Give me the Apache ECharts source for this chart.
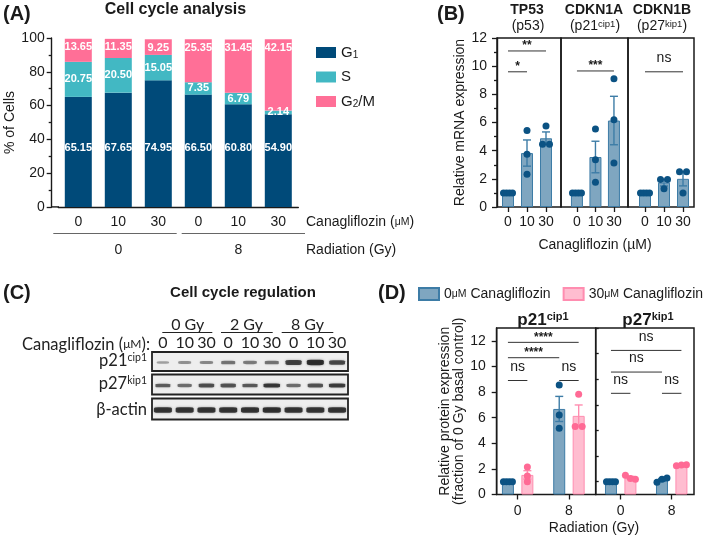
<!DOCTYPE html>
<html><head><meta charset="utf-8">
<script src="https://cdn.jsdelivr.net/npm/echarts@6/dist/echarts.min.js"></script>
<style>html,body{margin:0;padding:0;background:#fff}#c{width:709px;height:539px}</style>
</head><body><div id="c"></div>
<script>
// ================= DATA =================
// (A) cell cycle distribution (%)
const cycleDoses = ['0','10','30','0','10','30'];
const cycleG1  = [65.15, 67.65, 74.95, 66.50, 60.80, 54.90];
const cycleS   = [20.75, 20.50, 15.05, 7.35, 6.79, 2.14];
const cycleG2M = [13.65, 11.35, 9.25, 25.35, 31.45, 42.15];
const cycleRadiation = ['0', '8'];
const cycleTicks = [0, 100, 20];

// (B) relative mRNA expression
const mrnaDoses = ['0','10','30'];
const tp53Mean = [1.0, 3.83, 4.88];
const tp53Sem  = [0, 0.93, 0.45];
const tp53Pts  = [[1,1,1,1],[5.44,3.75,2.32],[5.75,4.45,4.45]];
const tp53Sig  = [['0','10',9.6,'*'],['0','30',11.08,'**']];
const cdkn1aMean = [1.0, 3.55, 6.14];
const cdkn1aSem  = [0, 1.12, 1.72];
const cdkn1aPts  = [[1,1,1,1],[5.54,3.36,1.75],[9.11,6.2,3.12]];
const cdkn1aSig  = [['0','30',9.66,'***']];
const cdkn1bMean = [1.0, 1.73, 2.0];
const cdkn1bSem  = [0, 0.24, 0.5];
const cdkn1bPts  = [[1,1,1,1],[1.95,1.95,1.3],[2.5,2.5,1.0]];
const cdkn1bSig  = [['0','30',9.6,'ns']];
const mrnaTicks = [0, 12, 2];

// (C) western blot band intensities (0-1)
const blotLanes = ['0','10','30','0','10','30','0','10','30'];
const blotGroups = ['0 Gy','2 Gy','8 Gy'];
const p21Band   = [0.22, 0.32, 0.38, 0.5, 0.45, 0.5, 0.85, 1.0, 0.8];
const p27Band   = [0.65, 0.55, 0.75, 0.72, 0.68, 0.92, 0.55, 0.72, 0.88];
const actinBand = [0.95, 0.95, 0.95, 0.95, 0.95, 0.97, 0.95, 0.93, 0.95];

// (D) relative protein expression
const radDoses = ['0','8'];
const p21CtrlMean = [1.0, 6.68];
const p21CtrlSem  = [0, 0.98];
const p21CtrlPts  = [[1,1,1,1],[8.54,6.21,5.17]];
const p21CanaMean = [1.53, 6.14];
const p21CanaSem  = [0.33, 0.85];
const p21CanaPts  = [[2.15,1.45,1.0],[7.83,5.3,5.3]];
const p21Sig = [['0','c','8','t',11.88,'****'],['0','c','8','c',10.68,'****'],['0','c','0','t',8.9,'ns'],['8','c','8','t',8.9,'ns']];
const p27CtrlMean = [1.0, 1.14];
const p27CtrlSem  = [0, 0.1];
const p27CtrlPts  = [[1,1,1,1],[0.95,1.2,1.28]];
const p27CanaMean = [1.32, 2.29];
const p27CanaSem  = [0.1, 0.03];
const p27CanaPts  = [[1.5,1.25,1.2],[2.25,2.3,2.32]];
const p27Sig = [['0','c','8','t',11.25,'ns'],['0','c','8','c',9.56,'ns'],['0','c','0','t',7.9,'ns'],['8','c','8','t',7.9,'ns']];
const protMajor = [0,2,4,6,8,10,12];
const protMinor = [1,3,5,7,9,11,13];
const protMax = 13;

// ================= STYLE =================
const FONT = '"Liberation Sans", Arial, Helvetica, sans-serif';
const CAL = 'Lato, "Open Sans", sans-serif';
const INK = '#1a1a1a';
const cNavy = '#004a79', cTeal = '#42b8c3', cPink = '#ff6f97';
const blueFill = '#7fa6c0', blueEdge = '#3d7ca6', blueDot = '#0b5283';
const pinkFill = '#ffbdd0', pinkEdge = '#ff8db0', pinkDot = '#ff6a95';
const CTRL = '0μM Canagliflozin', CANA = '30μM Canagliflozin';
const barW = 12, barGapRatio = 0.62;
const dOff = barW * (1 + barGapRatio) / 2;

function jitter(vals, thr) {
  const n = vals.length, off = new Array(n).fill(0);
  const idx = vals.map((v, i) => i).sort((a, b) => vals[a] - vals[b]);
  const clusters = []; let cur = [idx[0]];
  for (let k = 1; k < n; k++) {
    if (vals[idx[k]] - vals[idx[k - 1]] < thr) cur.push(idx[k]);
    else { clusters.push(cur); cur = [idx[k]]; }
  }
  clusters.push(cur);
  clusters.forEach(c => {
    c.sort((a, b) => a - b);
    const s = c.length >= 4 ? 3 : (c.length === 3 ? 5 : 7);
    c.forEach((i, j) => { off[i] = (j - (c.length - 1) / 2) * s; });
  });
  return off;
}

function dotSeries(ai, pts, dx, color) {
  const data = [];
  pts.forEach((arr, i) => {
    const off = jitter(arr, 0.42);
    arr.forEach((v, j) => data.push({ value: [i, v], symbolOffset: [dx + off[j], 0] }));
  });
  return { type: 'scatter', xAxisIndex: ai, yAxisIndex: ai, data, symbolSize: 7, z: 5, silent: true,
    itemStyle: { color, opacity: 1 } };
}

function errSeries(ai, mean, sem, dx, color) {
  return { type: 'custom', xAxisIndex: ai, yAxisIndex: ai, z: 4, silent: true, clip: false,
    data: mean.map((m, i) => [i, m]),
    renderItem: (p, api) => {
      const i = p.dataIndex, m = mean[i], s = sem[i];
      if (!s) return null;
      const t = api.coord([i, m + s]), b = api.coord([i, m - s]);
      const x = t[0] + dx, cap = 4, st = { stroke: color, lineWidth: 1.4 };
      return { type: 'group', children: [
        { type: 'line', shape: { x1: x, y1: t[1], x2: x, y2: b[1] }, style: st },
        { type: 'line', shape: { x1: x - cap, y1: t[1], x2: x + cap, y2: t[1] }, style: st },
        { type: 'line', shape: { x1: x - cap, y1: b[1], x2: x + cap, y2: b[1] }, style: st }
      ]};
    } };
}

// list items: [fromIdx, fromDx, toIdx, toDx, y, text]
function sigSeries(ai, list) {
  return { type: 'custom', xAxisIndex: ai, yAxisIndex: ai, z: 6, silent: true, clip: false,
    data: list.map(s => [s[0], s[4]]),
    renderItem: (p, api) => {
      const s = list[p.dataIndex];
      const a = api.coord([s[0], s[4]]), b = api.coord([s[2], s[4]]);
      const x1 = a[0] + s[1], x2 = b[0] + s[3], y = a[1];
      const star = s[5] !== 'ns';
      return { type: 'group', children: [
        { type: 'line', shape: { x1, y1: y, x2, y2: y }, style: { stroke: '#333', lineWidth: 1 } },
        { type: 'text', style: { text: s[5], x: (x1 + x2) / 2, y: star ? y - 5 : y - 13.5,
          align: 'center', verticalAlign: 'middle', textAlign: 'center', textVerticalAlign: 'middle',
          fontSize: star ? 12 : 14, fontWeight: star ? 'bold' : 'normal', fontFamily: FONT, fill: INK } }
      ]};
    } };
}

function blotSeries(ai, vals, kind) {
  return { type: 'scatter', xAxisIndex: ai, yAxisIndex: ai, z: 3, silent: true,
    data: vals.map((v, i) => {
      const w = kind === 'actin' ? 18 : 11 + 6 * v;
      const h = kind === 'actin' ? 5.5 : (kind === 'p21' ? 1.6 + 3.8 * v : 2.2 + 2.2 * v);
      return { value: [i, 0.5], symbol: 'roundRect', symbolSize: [w, h], symbolOffset: [0, 1],
        itemStyle: { color: 'rgba(15,15,15,' + (0.25 + 0.75 * v).toFixed(2) + ')',
          shadowBlur: 2.5, shadowColor: 'rgba(0,0,0,' + (0.5 * v).toFixed(2) + ')' } };
    }) };
}

// ================= LAYOUT =================
const frame = { show: true, borderColor: INK, borderWidth: 1.5, backgroundColor: 'transparent' };
const blotBox = { show: true, backgroundColor: '#eeeeee', borderColor: '#222', borderWidth: 1.8 };
const grids = [
  { left: 58.3, top: 38, width: 240, height: 169 },                         // 0 A
  Object.assign({ left: 497, top: 38, width: 64, height: 169 }, frame),     // 1 B frame
  Object.assign({ left: 561, top: 38, width: 67, height: 169 }, frame),     // 2
  Object.assign({ left: 628, top: 38, width: 66, height: 169 }, frame),     // 3
  { left: 498.5, top: 38, width: 57, height: 169 },                         // 4 B data
  { left: 567.7, top: 38, width: 55.5, height: 169 },                       // 5
  { left: 635.5, top: 38, width: 57, height: 169 },                         // 6
  Object.assign({ left: 496.7, top: 328, width: 99, height: 166.5 }, frame),// 7 D frame
  Object.assign({ left: 595.7, top: 328, width: 98.3, height: 166.5 }, frame),// 8
  { left: 492, top: 328, width: 102.6, height: 166.5 },                     // 9 D data
  { left: 595.2, top: 328, width: 102, height: 166.5 },                     // 10
  Object.assign({ left: 152, top: 352, width: 196, height: 19 }, blotBox),  // 11 blot p21
  Object.assign({ left: 152, top: 374.5, width: 196, height: 20 }, blotBox),// 12 blot p27
  Object.assign({ left: 152, top: 398.5, width: 196, height: 21 }, blotBox) // 13 actin
];

const axLine = { lineStyle: { color: INK, width: 1.4 } };
const tickSt = { lineStyle: { color: INK, width: 1.3 } };
const hiddenX = gi => ({ type: 'value', gridIndex: gi, show: false });
const catX = (gi, cats, margin) => ({ type: 'category', gridIndex: gi, data: cats,
  axisLine: { show: false }, axisTick: Object.assign({ show: true, alignWithLabel: true, length: 5, inside: false, interval: 0 }, tickSt),
  axisLabel: { fontSize: 14, color: INK, margin, fontFamily: FONT, interval: 0, hideOverlap: false } });

const xAxes = [
  { type: 'category', gridIndex: 0, data: cycleDoses, axisLine: axLine,
    axisTick: Object.assign({ alignWithLabel: true, length: 5, interval: 0 }, tickSt),
    axisLabel: { fontSize: 14, color: INK, margin: 8, fontFamily: FONT, interval: 0 } },
  hiddenX(1), hiddenX(2), hiddenX(3),
  catX(4, mrnaDoses, 8), catX(5, mrnaDoses, 8), catX(6, mrnaDoses, 8),
  hiddenX(7), hiddenX(8),
  catX(9, radDoses, 10), catX(10, radDoses, 10),
  { type: 'category', gridIndex: 11, data: blotLanes, position: 'top', axisLine: { show: false }, axisTick: { show: false },
    axisLabel: { fontSize: 16, color: '#222', margin: 1, fontFamily: CAL, interval: 0, hideOverlap: false } },
  { type: 'category', gridIndex: 12, data: blotLanes, show: false },
  { type: 'category', gridIndex: 13, data: blotLanes, show: false }
];

const hiddenY = (gi, max) => ({ type: 'value', gridIndex: gi, min: 0, max, show: false, splitLine: { show: false } });
const yAxes = [
  { type: 'value', gridIndex: 0, min: cycleTicks[0], max: cycleTicks[1], interval: cycleTicks[2], offset: 6.6,
    axisLine: Object.assign({ show: true }, axLine), axisTick: Object.assign({ show: true, length: 5 }, tickSt),
    minorTick: Object.assign({ show: true, splitNumber: 2, length: 3 }, tickSt), splitLine: { show: false },
    axisLabel: { fontSize: 14, color: INK, margin: 7, fontFamily: FONT },
    name: '% of Cells', nameLocation: 'middle', nameGap: 31, nameTextStyle: { fontSize: 14, color: INK, fontFamily: FONT } },
  { type: 'value', gridIndex: 1, min: mrnaTicks[0], max: mrnaTicks[1], interval: mrnaTicks[2],
    axisLine: Object.assign({ show: true }, axLine), axisTick: Object.assign({ show: true, length: 5 }, tickSt),
    minorTick: Object.assign({ show: true, splitNumber: 2, length: 3 }, tickSt), splitLine: { show: false },
    axisLabel: { fontSize: 14, color: INK, margin: 10, fontFamily: FONT },
    name: 'Relative mRNA expression', nameLocation: 'middle', nameGap: 30,
    nameTextStyle: { fontSize: 14, color: INK, fontFamily: FONT } },
  hiddenY(2, 12), hiddenY(3, 12),
  hiddenY(4, 12), hiddenY(5, 12), hiddenY(6, 12),
  { type: 'value', gridIndex: 7, min: 0, max: protMax,
    axisLine: Object.assign({ show: true }, axLine),
    axisTick: Object.assign({ show: true, length: 5, customValues: protMajor }, tickSt),
    splitLine: { show: false },
    axisLabel: { fontSize: 14, color: INK, margin: 11, fontFamily: FONT, customValues: protMajor },
    name: 'Relative protein expression\n(fraction of 0 Gy basal control)', nameLocation: 'middle', nameGap: 28,
    nameTextStyle: { fontSize: 14, color: INK, fontFamily: FONT, lineHeight: 14 } },
  hiddenY(8, protMax),
  hiddenY(9, protMax), hiddenY(10, protMax),
  hiddenY(11, 1), hiddenY(12, 1), hiddenY(13, 1),
  { type: 'value', gridIndex: 7, min: 0, max: protMax, axisLine: { show: false }, axisLabel: { show: false },
    splitLine: { show: false }, axisTick: Object.assign({ show: true, length: 3, customValues: protMinor }, tickSt) }
];

// ================= SERIES =================
const series = [];
const aLabel = { show: true, color: '#fff', fontWeight: 'bold', fontSize: 11, fontFamily: FONT,
  formatter: p => Number(p.value).toFixed(2) };
series.push({ name: 'G1', type: 'bar', stack: 'cc', xAxisIndex: 0, yAxisIndex: 0, data: cycleG1, barWidth: 27,
  itemStyle: { color: cNavy }, label: Object.assign({ position: 'insideBottom', distance: 54 }, aLabel) });
series.push({ name: 'S', type: 'bar', stack: 'cc', xAxisIndex: 0, yAxisIndex: 0, data: cycleS, barWidth: 27,
  itemStyle: { color: cTeal }, label: Object.assign({ position: 'inside' }, aLabel) });
series.push({ name: 'G2/M', type: 'bar', stack: 'cc', xAxisIndex: 0, yAxisIndex: 0, data: cycleG2M, barWidth: 27,
  itemStyle: { color: cPink }, label: Object.assign({ position: 'insideTop', distance: 3 }, aLabel) });

const mrnaPanels = [
  { mean: tp53Mean, sem: tp53Sem, pts: tp53Pts, sig: tp53Sig },
  { mean: cdkn1aMean, sem: cdkn1aSem, pts: cdkn1aPts, sig: cdkn1aSig },
  { mean: cdkn1bMean, sem: cdkn1bSem, pts: cdkn1bPts, sig: cdkn1bSig }
];
mrnaPanels.forEach((p, k) => {
  const ai = 4 + k;
  series.push({ name: 'mrna' + k, type: 'bar', xAxisIndex: ai, yAxisIndex: ai, data: p.mean, barWidth: barW, z: 2,
    itemStyle: { color: blueFill, borderColor: blueEdge, borderWidth: 1 } });
  series.push(errSeries(ai, p.mean, p.sem, 0, blueEdge));
  series.push(dotSeries(ai, p.pts, 0, blueDot));
  series.push(sigSeries(ai, p.sig.map(s => [mrnaDoses.indexOf(s[0]), 0, mrnaDoses.indexOf(s[1]), 0, s[2], s[3]])));
});

const protPanels = [
  { cm: p21CtrlMean, cs: p21CtrlSem, cp: p21CtrlPts, tm: p21CanaMean, ts: p21CanaSem, tp: p21CanaPts, sig: p21Sig },
  { cm: p27CtrlMean, cs: p27CtrlSem, cp: p27CtrlPts, tm: p27CanaMean, ts: p27CanaSem, tp: p27CanaPts, sig: p27Sig }
];
protPanels.forEach((p, k) => {
  const ai = 9 + k;
  series.push({ name: CTRL, type: 'bar', xAxisIndex: ai, yAxisIndex: ai, data: p.cm, barWidth: barW,
    barGap: (barGapRatio * 100) + '%', z: 2, itemStyle: { color: blueFill, borderColor: blueEdge, borderWidth: 1 } });
  series.push({ name: CANA, type: 'bar', xAxisIndex: ai, yAxisIndex: ai, data: p.tm, barWidth: barW,
    barGap: (barGapRatio * 100) + '%', z: 2, itemStyle: { color: pinkFill, borderColor: pinkEdge, borderWidth: 1 } });
  series.push(errSeries(ai, p.cm, p.cs, -dOff, blueEdge));
  series.push(errSeries(ai, p.tm, p.ts, dOff, pinkEdge));
  series.push(dotSeries(ai, p.cp, -dOff, blueDot));
  series.push(dotSeries(ai, p.tp, dOff, pinkDot));
  series.push(sigSeries(ai, p.sig.map(s => [radDoses.indexOf(s[0]), s[1] === 'c' ? -dOff : dOff,
    radDoses.indexOf(s[2]), s[3] === 'c' ? -dOff : dOff, s[4], s[5]])));
});

series.push(blotSeries(11, p21Band, 'p21'));
series.push(blotSeries(12, p27Band, 'p27'));
series.push(blotSeries(13, actinBand, 'actin'));

// ================= ANNOTATION TEXT =================
const supR = { sup: { fontSize: 9.5, verticalAlign: 'top', lineHeight: 8 } };
function T(x, y, text, o) {
  const st = Object.assign({ text, fill: INK, fontSize: 14, fontFamily: FONT, align: 'left', verticalAlign: 'middle' }, o || {});
  st.textAlign = st.align; st.textVerticalAlign = st.verticalAlign;
  return { type: 'text', x, y, silent: true, style: st };
}
function L(x1, y1, x2, y2, c, w) {
  return { type: 'line', silent: true, shape: { x1, y1, x2, y2 }, style: { stroke: c || '#555', lineWidth: w || 1 } };
}
const scR = { sc: { fontSize: 10.5 } };
const calSup = { sup: { fontSize: 10.5, verticalAlign: 'top', lineHeight: 8, fontFamily: CAL } };
const elements = [
  // A
  T(3, 14, '(A)', { fontSize: 20, fontWeight: 'bold' }),
  T(175.5, 10, 'Cell cycle analysis', { fontSize: 16, fontWeight: 'bold', align: 'center' }),
  L(51, 206.9, 59, 206.9, INK, 1.4),
  T(306, 222, 'Canagliflozin ({sc|μM})', { rich: scR }),
  L(53.3, 233.5, 176.7, 233.5, '#666', 1),
  L(181.7, 233.5, 305, 233.5, '#666', 1),
  T(118.3, 250, cycleRadiation[0], { align: 'center' }),
  T(238.3, 250, cycleRadiation[1], { align: 'center' }),
  T(306, 250, 'Radiation (Gy)'),
  // B
  T(437, 14, '(B)', { fontSize: 20, fontWeight: 'bold' }),
  T(527, 10, 'TP53', { fontSize: 14, fontWeight: 'bold', align: 'center' }),
  T(528, 26.5, '(p53)', { align: 'center' }),
  T(594, 10, 'CDKN1A', { fontSize: 14, fontWeight: 'bold', align: 'center' }),
  T(595, 26.5, '(p21{sup|cip1})', { align: 'center', rich: supR }),
  T(662, 10, 'CDKN1B', { fontSize: 14, fontWeight: 'bold', align: 'center' }),
  T(662, 26.5, '(p27{sup|kip1})', { align: 'center', rich: supR }),
  T(595, 245, 'Canagliflozin (µM)', { align: 'center' }),
  // C
  T(3, 293, '(C)', { fontSize: 20, fontWeight: 'bold' }),
  T(243, 292.5, 'Cell cycle regulation', { fontSize: 15, fontWeight: 'bold', align: 'center' }),
  T(187.7, 325, blotGroups[0], { align: 'center', fontFamily: CAL, fontSize: 16, fill: '#222' }),
  T(246.5, 325, blotGroups[1], { align: 'center', fontFamily: CAL, fontSize: 16, fill: '#222' }),
  T(307.5, 325, blotGroups[2], { align: 'center', fontFamily: CAL, fontSize: 16, fill: '#222' }),
  L(162.3, 332.5, 212.3, 332.5, '#222', 1.2),
  L(221, 332.5, 272.7, 332.5, '#222', 1.2),
  L(281.7, 332.5, 333.3, 332.5, '#222', 1.2),
  T(150, 344.5, 'Canagliflozin ({sc|μM}):', { align: 'right', fontFamily: CAL, fontSize: 16.5, fill: '#222', rich: { sc: { fontSize: 12, fontFamily: CAL } } }),
  T(147, 361, 'p21{sup|cip1}', { align: 'right', fontFamily: CAL, fontSize: 16.5, fill: '#222', rich: calSup }),
  T(147, 384, 'p27{sup|kip1}', { align: 'right', fontFamily: CAL, fontSize: 16.5, fill: '#222', rich: calSup }),
  T(147, 409.5, 'β-actin', { align: 'right', fontFamily: CAL, fontSize: 16.5, fill: '#222' }),
  // D
  T(378, 293, '(D)', { fontSize: 20, fontWeight: 'bold' }),
  T(543, 320, 'p21{sup|cip1}', { fontSize: 17, fontWeight: 'bold', align: 'center', rich: { sup: { fontSize: 11, fontWeight: 'bold', verticalAlign: 'top', lineHeight: 8 } } }),
  T(648, 320, 'p27{sup|kip1}', { fontSize: 17, fontWeight: 'bold', align: 'center', rich: { sup: { fontSize: 11, fontWeight: 'bold', verticalAlign: 'top', lineHeight: 8 } } }),
  T(594, 528, 'Radiation (Gy)', { align: 'center' })
];

const option = {
  animation: false,
  backgroundColor: '#ffffff',
  textStyle: { fontFamily: FONT },
  grid: grids,
  xAxis: xAxes,
  yAxis: yAxes,
  legend: [
    { data: ['G1', 'S', 'G2/M'], orient: 'vertical', left: 316, top: 45, padding: 0, itemWidth: 20, itemHeight: 11, itemGap: 9.5,
      icon: 'rect', selectedMode: false,
      formatter: n => n === 'G1' ? 'G{sub|1}' : (n === 'G2/M' ? 'G{sub|2}/M' : n),
      textStyle: { fontSize: 15, color: INK, fontFamily: FONT, rich: { sub: { fontSize: 10, verticalAlign: 'bottom', lineHeight: 6 } } } },
    { data: [CTRL, CANA], orient: 'horizontal', left: 418, top: 287, padding: 0, width: 400, itemWidth: 20, itemHeight: 12, itemGap: 12,
      icon: 'rect', selectedMode: false,
      formatter: n => n.replace('μM', '{sc|μM}'),
      textStyle: { fontSize: 14, color: INK, fontFamily: FONT, rich: { sc: { fontSize: 10.5 } } } }
  ],
  series,
  graphic: { elements }
};

const chart = echarts.init(document.getElementById('c'), null, { renderer: 'canvas', width: 709, height: 539 });
chart.setOption(option);
</script>
</body></html>
